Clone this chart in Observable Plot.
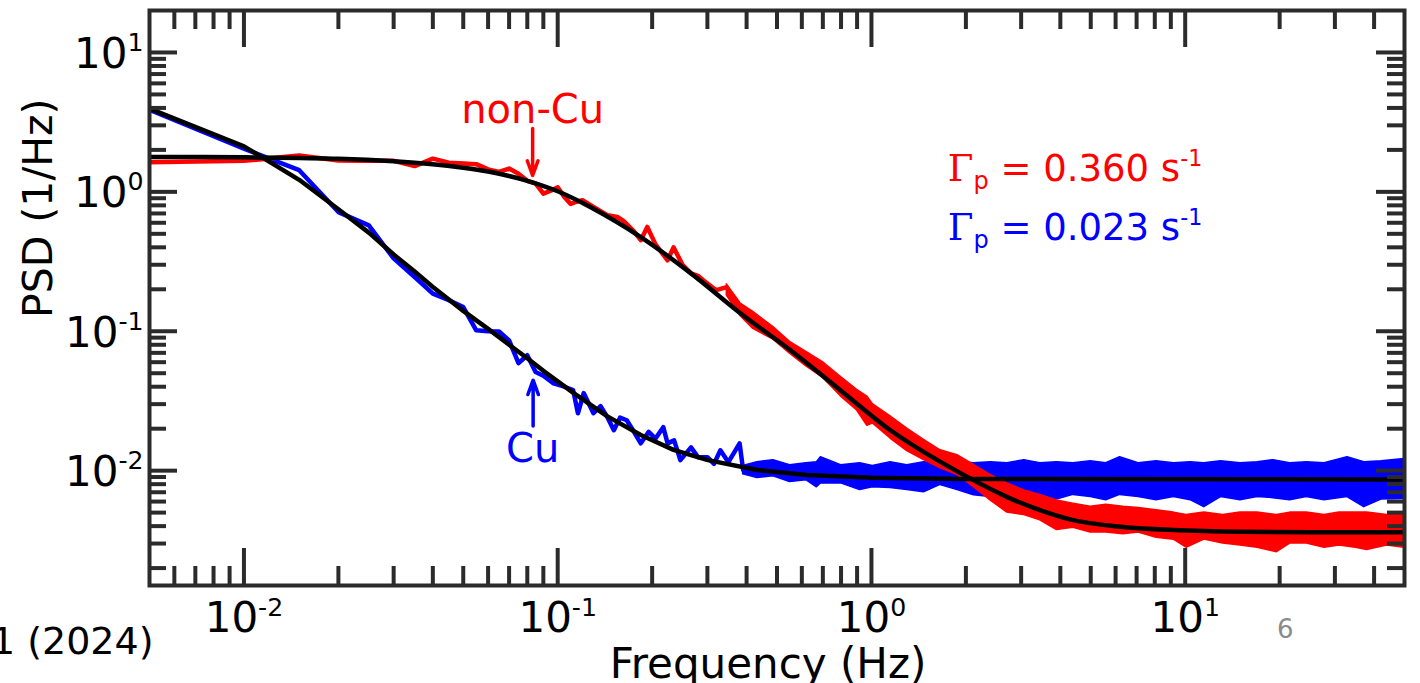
<!DOCTYPE html>
<html><head><meta charset="utf-8">
<script src="https://cdn.jsdelivr.net/npm/d3@7"></script>
<script src="https://cdn.jsdelivr.net/npm/@observablehq/plot@0.6"></script>
<style>
html,body{margin:0;padding:0;background:#fff;overflow:hidden}
#chart{width:1420px;height:683px}
</style></head><body><div id="chart"></div>
<script>
// ---------- data ----------
// non-Cu (red) measured PSD, sparse low-frequency part
const redLineFreq = [0.005,0.01,0.015,0.02,0.025,0.03,0.035,0.04,0.045,0.05,0.055,0.06,0.065,0.07,0.075,0.08,0.085,0.09,0.095,0.1,0.105,0.11,0.115,0.12,0.13,0.144,0.155,0.162,0.175,0.184,0.193,0.205,0.224,0.234,0.25,0.266,0.28,0.291,0.32,0.346];
const redLineVal  = [1.63,1.67,1.82,1.68,1.67,1.67,1.53,1.73,1.62,1.60,1.58,1.45,1.39,1.47,1.35,1.20,1.15,0.97,1.02,1.08,0.92,0.82,0.85,0.87,0.78,0.68,0.66,0.62,0.52,0.45,0.56,0.42,0.323,0.40,0.30,0.26,0.25,0.232,0.197,0.207];
// non-Cu dense noisy part: envelope of the band
const redBandFreq = [0.346,0.383,0.42,0.487,0.55,0.62,0.70,0.80,0.90,0.97,1.01,1.15,1.30,1.47,1.66,1.88,2.12,2.4,2.71,3.07,3.45,3.9,4.4,5.0,5.6,6.35,7.1,8.1,9.2,10.1,11.5,13.2,15,17,19.6,21.6,24.4,27.8,31,35,38,44,50];
const redBandHigh = [0.217,0.158,0.138,0.107,0.084,0.071,0.060,0.047,0.038,0.034,0.0300,0.0245,0.0200,0.0166,0.0140,0.0129,0.0110,0.0093,0.0081,0.0072,0.0067,0.0061,0.0058,0.0055,0.0057,0.0055,0.0054,0.0052,0.0050,0.0048,0.0050,0.0048,0.0050,0.0050,0.0048,0.0050,0.0050,0.0048,0.0050,0.0050,0.0050,0.0048,0.0050];
const redBandLow  = [0.180,0.128,0.104,0.087,0.069,0.056,0.0465,0.034,0.027,0.0210,0.0218,0.0170,0.0138,0.0119,0.0104,0.0093,0.0076,0.0061,0.0050,0.0048,0.0044,0.00375,0.0039,0.0036,0.0036,0.0035,0.0036,0.0033,0.0032,0.0028,0.0032,0.0030,0.0029,0.0028,0.0026,0.0030,0.0030,0.0028,0.0029,0.0028,0.0027,0.0029,0.0028];
// Cu (blue) measured PSD, sparse low-frequency part
const blueLineFreq = [0.005,0.01,0.015,0.02,0.025,0.03,0.035,0.04,0.045,0.05,0.055,0.06,0.065,0.07,0.075,0.08,0.085,0.09,0.097,0.105,0.112,0.116,0.121,0.13,0.137,0.144,0.151,0.158,0.166,0.175,0.184,0.195,0.205,0.217,0.224,0.235,0.246,0.266,0.28,0.30,0.315,0.33,0.35,0.38,0.39];
const blueLineVal  = [3.88,2.04,1.43,0.716,0.575,0.333,0.245,0.186,0.167,0.149,0.1016,0.100,0.0995,0.086,0.059,0.0673,0.051,0.048,0.0423,0.040,0.0378,0.0258,0.036,0.0258,0.029,0.0242,0.0195,0.024,0.023,0.019,0.0157,0.019,0.017,0.0205,0.0157,0.0165,0.0119,0.0147,0.0125,0.0125,0.0112,0.0140,0.0115,0.0157,0.0101];
// Cu dense noisy part: envelope of the band
const blueBandFreq = [0.39,0.433,0.487,0.55,0.62,0.67,0.69,0.80,0.92,1.01,1.15,1.30,1.47,1.66,1.88,2.12,2.4,2.71,3.07,3.45,3.9,4.4,5.0,5.6,6.2,7.1,8.1,9.2,10.4,11.5,13,15,17,19.1,21.6,24.4,27.8,32.9,37.2,42.2,50];
const blueBandHigh = [0.0108,0.0115,0.0119,0.01095,0.0113,0.0115,0.0125,0.01095,0.0113,0.0108,0.0115,0.01095,0.0115,0.0113,0.0117,0.0113,0.0115,0.0113,0.0119,0.0113,0.0115,0.0113,0.0117,0.0113,0.0125,0.0113,0.0117,0.0113,0.0115,0.0113,0.0117,0.0113,0.0115,0.0119,0.0113,0.0115,0.0113,0.0125,0.0115,0.0117,0.0121];
const blueBandLow  = [0.0094,0.00884,0.0091,0.0083,0.00855,0.0076,0.0081,0.0081,0.00725,0.0076,0.0075,0.00725,0.0070,0.0079,0.00725,0.00667,0.00646,0.0067,0.00646,0.0068,0.0062,0.0067,0.00646,0.00614,0.0067,0.00646,0.00614,0.00646,0.00614,0.00547,0.00646,0.00614,0.00646,0.00635,0.00614,0.00646,0.00614,0.00646,0.00547,0.0062,0.00625];
// fit curves (black)
const redFitFreq = [0.005,0.01,0.015,0.02,0.03,0.04,0.05,0.06,0.07,0.08,0.1,0.127,0.184,0.266,0.383,0.552,0.796,1.15,1.66,2.71,3.45,4.4,6.35,9.16,15,50];
const redFitVal  = [1.78,1.77,1.75,1.73,1.66,1.58,1.49,1.40,1.30,1.20,1.01,0.778,0.474,0.260,0.134,0.0731,0.0378,0.0195,0.01156,0.00646,0.00521,0.00442,0.00394,0.00375,0.00364,0.00361];
const blueFitFreq = [0.005,0.01,0.015,0.02,0.025,0.03,0.035,0.04,0.05,0.06,0.07,0.08,0.09,0.1125,0.144,0.184,0.234,0.301,0.433,0.622,1.01,2.0,50];
const blueFitVal  = [3.95,2.12,1.22,0.75,0.51,0.355,0.268,0.208,0.140,0.104,0.080,0.064,0.052,0.036,0.0245,0.0180,0.0141,0.0119,0.0101,0.0093,0.0089,0.0087,0.00865];
// axes
const xMajor = [0.01,0.1,1,10];
const xMinor = [0.006,0.007,0.008,0.009,0.02,0.03,0.04,0.05,0.06,0.07,0.08,0.09,0.2,0.3,0.4,0.5,0.6,0.7,0.8,0.9,2,3,4,5,6,7,8,9,20,30,40];
const yMajor = [0.01,0.1,1,10];
const yMinor = [0.002,0.003,0.004,0.005,0.006,0.007,0.008,0.009,0.02,0.03,0.04,0.05,0.06,0.07,0.08,0.09,0.2,0.3,0.4,0.5,0.6,0.7,0.8,0.9,2,3,4,5,6,7,8,9];
const xLabel = "Frequency (Hz)";
const yLabel = "PSD (1/Hz)";
const redGammaText = "Γ_{p} = 0.360 s^{-1}";
const blueGammaText = "Γ_{p} = 0.023 s^{-1}";

// ---------- build tables ----------
const pts = (F, V) => F.map((f, i) => ({f, v: V[i]}));
const band = (F, L, Hh) => F.map((f, i) => ({f, lo: L[i], hi: Hh[i]}));
const redLine = pts(redLineFreq, redLineVal);
const blueLine = pts(blueLineFreq, blueLineVal);
const redBand = band(redBandFreq, redBandLow, redBandHigh);
const blueBand = band(blueBandFreq, blueBandLow, blueBandHigh);
const redFit = pts(redFitFreq, redFitVal);
const blueFit = pts(blueFitFreq, blueFitVal);

const W = 1420, H = 683, mL = 149, mR = 16, mT = 10, mB = 98;
const plotW = W - mL - mR, plotH = H - mT - mB;
const ink = "#2b2b2b";
const RED = "#ff0000", BLUE = "#0000ff";
const tk = {stroke: ink, strokeWidth: 4};
const expFmt = d => `10^{${Math.round(Math.log10(d))}}`;

const svg = Plot.plot({
  width: W, height: H,
  marginLeft: mL, marginRight: mR, marginTop: mT, marginBottom: mB,
  x: {type: "log", domain: [0.005, 50]},
  y: {type: "log", domain: [0.0015, 20]},
  style: {fontFamily: "DejaVu Sans", background: "#fff", color: "#000", overflow: "visible"},
  marks: [
    Plot.areaY(blueBand, {x: "f", y1: "lo", y2: "hi", fill: BLUE, stroke: BLUE, strokeWidth: 1.5, strokeLinejoin: "round", clip: true}),
    Plot.line(blueLine, {x: "f", y: "v", stroke: BLUE, strokeWidth: 4.5, clip: true}),
    Plot.areaY(redBand, {x: "f", y1: "lo", y2: "hi", fill: RED, stroke: RED, strokeWidth: 1.5, strokeLinejoin: "round", clip: true}),
    Plot.line(redLine, {x: "f", y: "v", stroke: RED, strokeWidth: 4.5, clip: true}),
    Plot.line(blueFit, {x: "f", y: "v", stroke: "#000", strokeWidth: 4.5, clip: true}),
    Plot.line(redFit, {x: "f", y: "v", stroke: "#000", strokeWidth: 4.5, curve: "catmull-rom", clip: true}),
    // annotations
    Plot.text([{f: 0.0832, v: 3.84, s: "non-Cu"}], {x: "f", y: "v", text: "s", fill: RED, fontSize: 40}),
    Plot.arrow([{f: 0.0832, a: 2.85, b: 1.31}], {x1: "f", x2: "f", y1: "a", y2: "b", stroke: RED, strokeWidth: 3.5, headLength: 15, headAngle: 40}),
    Plot.text([{f: 0.0832, v: 0.01416, s: "Cu"}], {x: "f", y: "v", text: "s", fill: BLUE, fontSize: 40}),
    Plot.arrow([{f: 0.0835, a: 0.0209, b: 0.0446}], {x1: "f", x2: "f", y1: "a", y2: "b", stroke: BLUE, strokeWidth: 3.5, headLength: 15, headAngle: 40}),
    Plot.text([{f: 1.75, v: 1.45, s: redGammaText}], {x: "f", y: "v", text: "s", textAnchor: "start", fill: RED, fontSize: 37}),
    Plot.text([{f: 1.75, v: 0.547, s: blueGammaText}], {x: "f", y: "v", text: "s", textAnchor: "start", fill: BLUE, fontSize: 37}),
    // frame and inward ticks on all four sides
    Plot.frame({stroke: ink, strokeWidth: 4}),
    Plot.tickX(xMajor, {x: d => d, insetTop: plotH - 37, ...tk}),
    Plot.tickX(xMajor, {x: d => d, insetBottom: plotH - 37, ...tk}),
    Plot.tickX(xMinor, {x: d => d, insetTop: plotH - 19, ...tk}),
    Plot.tickX(xMinor, {x: d => d, insetBottom: plotH - 19, ...tk}),
    Plot.tickY(yMajor, {y: d => d, insetRight: plotW - 28, ...tk}),
    Plot.tickY(yMajor, {y: d => d, insetLeft: plotW - 28, ...tk}),
    Plot.tickY(yMinor, {y: d => d, insetRight: plotW - 17, ...tk}),
    Plot.tickY(yMinor, {y: d => d, insetLeft: plotW - 17, ...tk}),
    Plot.axisX(xMajor, {anchor: "bottom", tickSize: 0, tickPadding: 17, tickFormat: expFmt, fontSize: 42, label: null}),
    Plot.axisY(yMajor, {anchor: "left", tickSize: 0, tickPadding: 6, tickFormat: expFmt, fontSize: 42, label: null, dy: 2}),
    // axis titles and page fragments
    Plot.text([xLabel], {text: d => d, frameAnchor: "bottom", lineAnchor: "bottom", dx: -9, dy: 92, fontSize: 42}),
    Plot.text([yLabel], {text: d => d, frameAnchor: "left", rotate: -90, dx: -111, dy: 20, fontSize: 41}),
    Plot.text(["1 (2024)"], {text: d => d, frameAnchor: "bottom-left", textAnchor: "end", lineAnchor: "bottom", dx: 4, dy: 68, fontSize: 38}),
    Plot.text(["6"], {text: d => d, frameAnchor: "bottom-right", lineAnchor: "bottom", dx: -111, dy: 52, fontSize: 26, fill: "#8a8a8a"})
  ]
});
document.getElementById("chart").appendChild(svg);

// rich text: ^{..} superscript, _{..} subscript, Γ in serif
function richify(root) {
  const NS = "http://www.w3.org/2000/svg";
  root.querySelectorAll("text").forEach(t => {
    const s = t.textContent;
    if (!/[\^_]\{|Γ/.test(s)) return;
    const fs = parseFloat(getComputedStyle(t).fontSize) || 40;
    const parts = [];
    const re = /([\^_])\{([^}]*)\}|(Γ)|([^\^_Γ]+)/g;
    let m;
    while ((m = re.exec(s))) {
      if (m[1]) parts.push({text: m[2], kind: m[1] === "^" ? "sup" : "sub"});
      else if (m[3]) parts.push({text: "Γ", kind: "serif"});
      else parts.push({text: m[4], kind: "n"});
    }
    t.textContent = "";
    let cur = 0;
    for (const p of parts) {
      const ts = document.createElementNS(NS, "tspan");
      let shift = 0;
      if (p.kind === "sup") { shift = -0.40 * fs; ts.setAttribute("font-size", 0.6 * fs); }
      else if (p.kind === "sub") { shift = 0.2 * fs; ts.setAttribute("font-size", 0.65 * fs); }
      else if (p.kind === "serif") { ts.setAttribute("font-family", "DejaVu Serif"); }
      if (shift !== cur) { ts.setAttribute("dy", shift - cur); cur = shift; }
      ts.textContent = p.text;
      t.appendChild(ts);
    }
  });
}
richify(svg);
</script>
</body></html>
